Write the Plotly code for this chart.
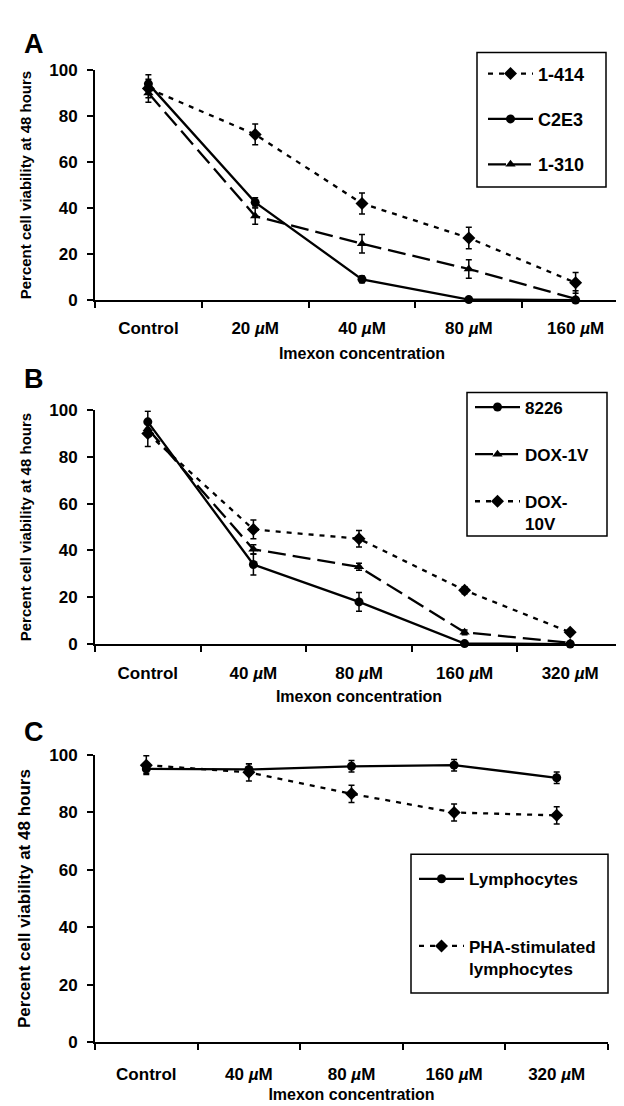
import numpy as np
import plotly.graph_objects as go

# ---------------- data ----------------
cats_a = ["Control", "20 <i>µ</i>M", "40 <i>µ</i>M", "80 <i>µ</i>M", "160 <i>µ</i>M"]
cats_bc = ["Control", "40 <i>µ</i>M", "80 <i>µ</i>M", "160 <i>µ</i>M", "320 <i>µ</i>M"]

a_1414 = [92, 72, 42, 27, 7.5]
a_1414_err = [6, 4.5, 4.6, 4.7, 4.5]
a_c2e3 = [94, 42.5, 9, 0.2, 0]
a_c2e3_err = [2, 2, 1.5, 1, 0.5]
a_1310 = [90, 36.5, 24.5, 13.5, 0.5]
a_1310_err = [2, 3.5, 4, 4, 3.5]

b_8226 = [95, 34, 18, 0.2, 0]
b_8226_err = [4.5, 4.5, 4, 0.5, 0.5]
b_dox1 = [92, 40.5, 33, 5, 0.5]
b_dox1_err = [3, 2, 1.5, 1, 0.5]
b_dox10 = [90, 49, 45, 23, 5]
b_dox10_err = [5.5, 4, 3.5, 1.5, 1]

c_lymph = [95.2, 95, 96.1, 96.5, 92.1]
c_lymph_err = [1.5, 2, 2, 2, 2]
c_pha = [96.5, 94, 86.5, 80, 79]
c_pha_err = [3.3, 3, 3, 3, 3]

FONT = "Liberation Sans, Arial, Helvetica, sans-serif"
W, H = 624, 1106

fig = go.Figure()


def add(x, y, err, name, symbol, dash, xa, ya, leg, group, msize=9):
    y = np.array(y, dtype=float)
    e = np.array(err, dtype=float)
    fig.add_trace(go.Scatter(
        x=x, y=y, name=name, mode="lines+markers",
        line=dict(color="black", width=2.3, dash=dash),
        marker=dict(symbol=symbol, size=msize, color="black"),
        error_y=dict(type="data", array=e, arrayminus=np.minimum(e, y),
                     color="black", thickness=1.5, width=3),
        xaxis=xa, yaxis=ya, legend=leg, legendgroup=group, cliponaxis=False,
    ))


SHORT = "5px,6px"
LONG = "18px,7px"

add(cats_a, a_1414, a_1414_err, "1-414", "diamond", SHORT, "x", "y", "legend", "a1", 10)
add(cats_a, a_c2e3, a_c2e3_err, "C2E3", "circle", "solid", "x", "y", "legend", "a2", 9)
add(cats_a, a_1310, a_1310_err, "1-310", "triangle-up", LONG, "x", "y", "legend", "a3", 9)

add(cats_bc, b_8226, b_8226_err, "8226", "circle", "solid", "x2", "y2", "legend2", "b1", 9)
add(cats_bc, b_dox1, b_dox1_err, "DOX-1V", "triangle-up", LONG, "x2", "y2", "legend2", "b2", 9)
add(cats_bc, b_dox10, b_dox10_err, "DOX-<br>10V", "diamond", SHORT, "x2", "y2", "legend2", "b3", 10)

add(cats_bc, c_lymph, c_lymph_err, "Lymphocytes", "circle", "solid", "x3", "y3", "legend3", "c1", 9)
add(cats_bc, c_pha, c_pha_err, "PHA-stimulated<br>lymphocytes", "diamond", SHORT, "x3", "y3", "legend3", "c2", 10)


def px_x(p):
    return p / W


def px_y(p):
    return 1 - p / H


tickfont = dict(family=FONT, size=17, color="black", weight="bold")


def tfont(size):
    return dict(family=FONT, size=size, color="black", weight="bold")


def xaxis(domain, anchor, lbl_standoff, title_standoff):
    return dict(domain=domain, anchor=anchor, type="category",
                showline=True, linecolor="black", linewidth=2,
                ticks="outside", ticklen=6, tickwidth=2, tickcolor="black",
                tickson="boundaries", showgrid=False, zeroline=False,
                tickfont=tickfont, ticklabelstandoff=lbl_standoff,
                title=dict(text="Imexon concentration", font=tfont(16), standoff=title_standoff),
                range=[-0.5, 4.5], fixedrange=True)


def yaxis(domain, anchor, tsize):
    return dict(domain=domain, anchor=anchor, range=[0, 100],
                tickvals=[0, 20, 40, 60, 80, 100],
                showline=True, linecolor="black", linewidth=2,
                ticks="outside", ticklen=6, tickwidth=2, tickcolor="black",
                showgrid=False, zeroline=False, tickfont=tickfont,
                ticklabelstandoff=6,
                title=dict(text="Percent cell viability at 48 hours", font=tfont(tsize), standoff=14),
                fixedrange=True)


def letter(t, x, y):
    return dict(text=t, x=px_x(x), y=px_y(y), xref="paper", yref="paper",
                xanchor="center", yanchor="middle", showarrow=False,
                font=dict(family=FONT, size=27, color="black", weight="bold"))


def legend(x, y, size, gap):
    return dict(x=px_x(x), y=px_y(y), xanchor="left", yanchor="top",
                bgcolor="rgba(0,0,0,0)", borderwidth=0, valign="top",
                itemwidth=45, font=tfont(size),
                tracegroupgap=gap, itemclick=False, itemdoubleclick=False)


fig.update_layout(
    width=W, height=H, margin=dict(l=0, r=0, t=0, b=0),
    paper_bgcolor="white", plot_bgcolor="white",
    font=dict(family=FONT, color="black", weight="bold"),
    xaxis=xaxis([px_x(87), px_x(621)], "y", 12, 10),
    yaxis=yaxis([px_y(288), px_y(54)], "x", 15),
    xaxis2=xaxis([px_x(87), px_x(615)], "y2", 13, 8),
    yaxis2=yaxis([px_y(638), px_y(400)], "x2", 15),
    xaxis3=xaxis([px_x(87), px_x(600)], "y3", 16, 5),
    yaxis3=yaxis([px_y(1043), px_y(751)], "x3", 17),
    showlegend=True,
    legend=legend(475, 39, 18, 19),
    legend2=legend(462, 379, 17, 22),
    legend3=legend(406, 859, 17, 42),
    shapes=[
        dict(type="rect", xref="paper", yref="paper",
             x0=px_x(469), x1=px_x(598), y0=px_y(173), y1=px_y(36),
             line=dict(color="black", width=1.5), fillcolor="rgba(0,0,0,0)"),
        dict(type="rect", xref="paper", yref="paper",
             x0=px_x(459), x1=px_x(599), y0=px_y(528), y1=px_y(382),
             line=dict(color="black", width=1.5), fillcolor="rgba(0,0,0,0)"),
        dict(type="rect", xref="paper", yref="paper",
             x0=px_x(403), x1=px_x(600), y0=px_y(993), y1=px_y(852),
             line=dict(color="black", width=1.5), fillcolor="rgba(0,0,0,0)"),
    ],
    annotations=[letter("A", 26, 27), letter("B", 26, 368), letter("C", 26, 727)],
)

fig.write_html("out.html")
